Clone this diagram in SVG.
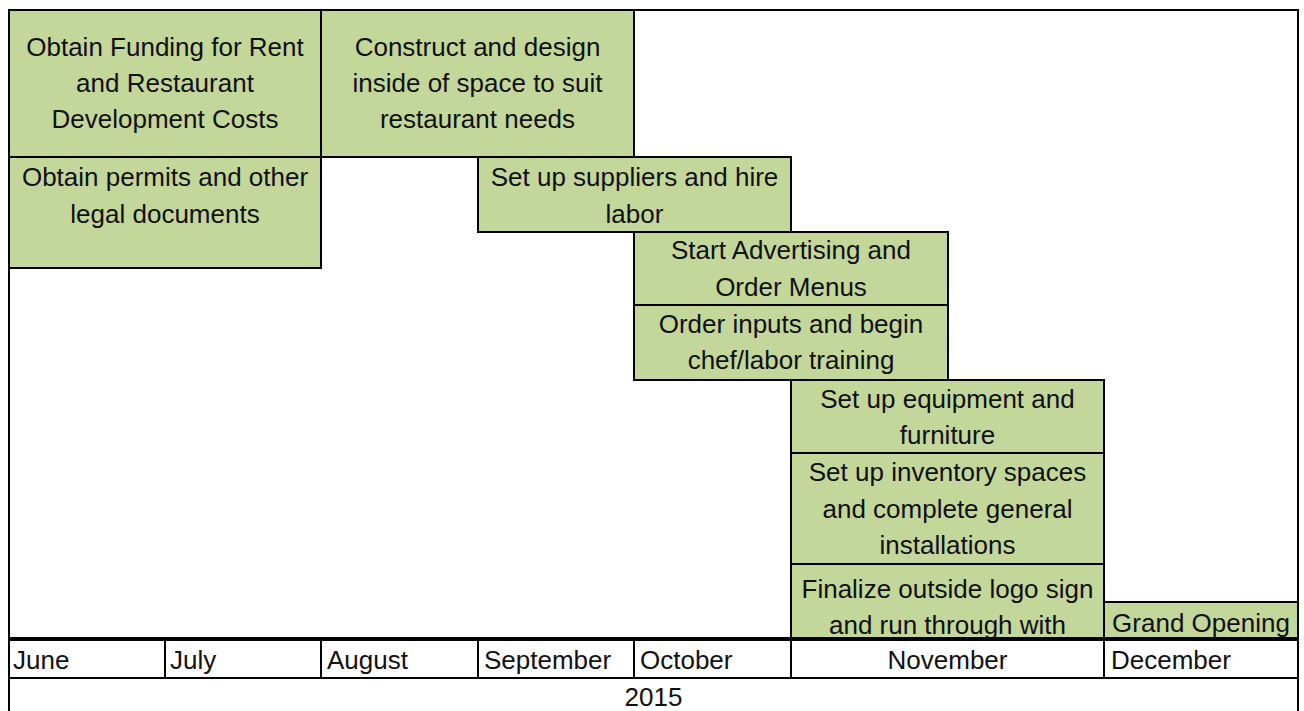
<svg xmlns="http://www.w3.org/2000/svg" width="1304" height="711" viewBox="0 0 1304 711">
  <style>
    .task { fill: #C4D79B; stroke: #000; stroke-width: 2; }
    .grid { fill: none; stroke: #000; stroke-width: 2; }
    .heavy { stroke: #000; stroke-width: 4; }
    text { font-family: "Liberation Sans", Arial, sans-serif; font-size: 26px; fill: #111; }
    .c { text-anchor: middle; }
  </style>
  <rect x="0" y="0" width="1304" height="711" fill="#fff"/>

  <!-- timeline frame, month row and year row -->
  <g id="timeline">
    <rect class="grid" x="9" y="10" width="1289" height="720"/>
    <line class="grid" x1="9" y1="678" x2="1298" y2="678"/>
    <line class="grid" x1="165" y1="639" x2="165" y2="678"/>
    <line class="grid" x1="321" y1="639" x2="321" y2="678"/>
    <line class="grid" x1="478" y1="639" x2="478" y2="678"/>
    <line class="grid" x1="634" y1="639" x2="634" y2="678"/>
    <line class="grid" x1="791" y1="639" x2="791" y2="678"/>
    <line class="grid" x1="1104" y1="639" x2="1104" y2="678"/>
    <text x="13" y="669">June</text>
    <text x="170" y="669">July</text>
    <text x="327" y="669">August</text>
    <text x="484" y="669">September</text>
    <text x="640" y="669">October</text>
    <text class="c" x="947.5" y="669">November</text>
    <text x="1111" y="669">December</text>
    <text class="c" x="653.5" y="706">2015</text>
  </g>

  <g id="task-funding">
    <rect class="task" x="9" y="10" width="312" height="147"/>
    <text class="c" x="165" y="56">Obtain Funding for Rent</text>
    <text class="c" x="165" y="92">and Restaurant</text>
    <text class="c" x="165" y="128">Development Costs</text>
  </g>

  <g id="task-construct">
    <rect class="task" x="321" y="10" width="313" height="147"/>
    <text class="c" x="477.5" y="56">Construct and design</text>
    <text class="c" x="477.5" y="92">inside of space to suit</text>
    <text class="c" x="477.5" y="128">restaurant needs</text>
  </g>

  <g id="task-permits">
    <rect class="task" x="9" y="157" width="312" height="111"/>
    <text class="c" x="165" y="186">Obtain permits and other</text>
    <text class="c" x="165" y="223">legal documents</text>
  </g>

  <g id="task-suppliers">
    <rect class="task" x="478" y="157" width="313" height="75"/>
    <text class="c" x="634.5" y="186">Set up suppliers and hire</text>
    <text class="c" x="634.5" y="223">labor</text>
  </g>

  <g id="task-advertising">
    <rect class="task" x="634" y="232" width="314" height="73"/>
    <text class="c" x="791" y="259">Start Advertising and</text>
    <text class="c" x="791" y="296">Order Menus</text>
  </g>

  <g id="task-training">
    <rect class="task" x="634" y="305" width="314" height="75"/>
    <text class="c" x="791" y="333">Order inputs and begin</text>
    <text class="c" x="791" y="369">chef/labor training</text>
  </g>

  <g id="task-equipment">
    <rect class="task" x="791" y="380" width="313" height="73"/>
    <text class="c" x="947.5" y="408">Set up equipment and</text>
    <text class="c" x="947.5" y="444">furniture</text>
  </g>

  <g id="task-inventory">
    <rect class="task" x="791" y="453" width="313" height="111"/>
    <text class="c" x="947.5" y="481">Set up inventory spaces</text>
    <text class="c" x="947.5" y="518">and complete general</text>
    <text class="c" x="947.5" y="554">installations</text>
  </g>

  <g id="task-finalize">
    <rect class="task" x="791" y="564" width="313" height="75"/>
    <text class="c" x="947.5" y="598">Finalize outside logo sign</text>
    <text class="c" x="947.5" y="634">and run through with</text>
  </g>

  <g id="task-opening">
    <rect class="task" x="1104" y="602" width="194" height="37"/>
    <text class="c" x="1201" y="632">Grand Opening</text>
  </g>

  <!-- heavy rule between the task area and the month row -->
  <g id="connectors">
    <line class="heavy" x1="9" y1="639" x2="1298" y2="639"/>
  </g>
</svg>
